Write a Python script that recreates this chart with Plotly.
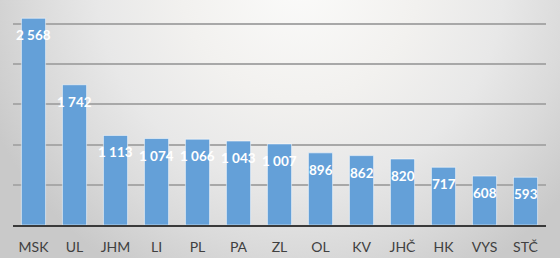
import base64
import plotly.graph_objects as go

categories = ["MSK", "UL", "JHM", "LI", "PL", "PA", "ZL", "OL", "KV", "JHČ", "HK", "VYS", "STČ"]
values = [2568, 1742, 1113, 1074, 1066, 1043, 1007, 896, 862, 820, 717, 608, 593]
value_labels = ["2 568", "1 742", "1 113", "1 074", "1 066", "1 043", "1 007", "896", "862", "820", "717", "608", "593"]

W, H = 560, 258
ml, mr, mt, mb = 13, 14, 0, 33
pw, ph = W - ml - mr, H - mt - mb

svg = f'''<svg xmlns="http://www.w3.org/2000/svg" width="{W}" height="{H}" viewBox="0 0 {W} {H}" preserveAspectRatio="none">
<defs><radialGradient id="g" gradientUnits="userSpaceOnUse" cx="300" cy="-20" r="340">
<stop offset="0" stop-color="#fbfbfa"/>
<stop offset="0.35" stop-color="#f2f1ef"/>
<stop offset="0.6" stop-color="#e8e8e8"/>
<stop offset="0.8" stop-color="#dadada"/>
<stop offset="1" stop-color="#c9c9c9"/>
</radialGradient></defs>
<rect x="0" y="0" width="{W}" height="{H}" fill="url(#g)"/>
</svg>'''
src = "data:image/svg+xml;base64," + base64.b64encode(svg.encode()).decode()

fig = go.Figure()
fig.add_trace(go.Bar(
    x=categories, y=values,
    marker=dict(color="#64a0d8", line=dict(color="rgba(255,255,255,0.55)", width=1)),
    hoverinfo="skip",
))

for c, v, t in zip(categories, values, value_labels):
    fig.add_annotation(x=c, y=v, text=f"<b>{t}</b>", showarrow=False,
                       yanchor="middle", yshift=-17,
                       font=dict(family="Lato", size=13.5, color="white"))

fig.add_layout_image(dict(
    source=src, xref="paper", yref="paper",
    x=-ml / pw, y=1 + mt / ph, sizex=W / pw, sizey=H / ph,
    xanchor="left", yanchor="top", sizing="stretch", layer="below",
))

fig.update_layout(
    width=W, height=H,
    margin=dict(l=ml, r=mr, t=mt, b=mb),
    paper_bgcolor="#d8d8d8",
    plot_bgcolor="rgba(0,0,0,0)",
    bargap=0.41,
    showlegend=False,
    xaxis=dict(showgrid=False, showline=True, linecolor="#3a3a3a", linewidth=2,
               tickfont=dict(family="Lato", size=14, color="#404040"),
               ticks="", ticklabelstandoff=8),
    yaxis=dict(range=[0, 2795], dtick=500, showticklabels=False,
               showgrid=True, gridcolor="#a8a8a8", gridwidth=1.5,
               zeroline=False, fixedrange=True),
)

fig.write_html("out.html")
